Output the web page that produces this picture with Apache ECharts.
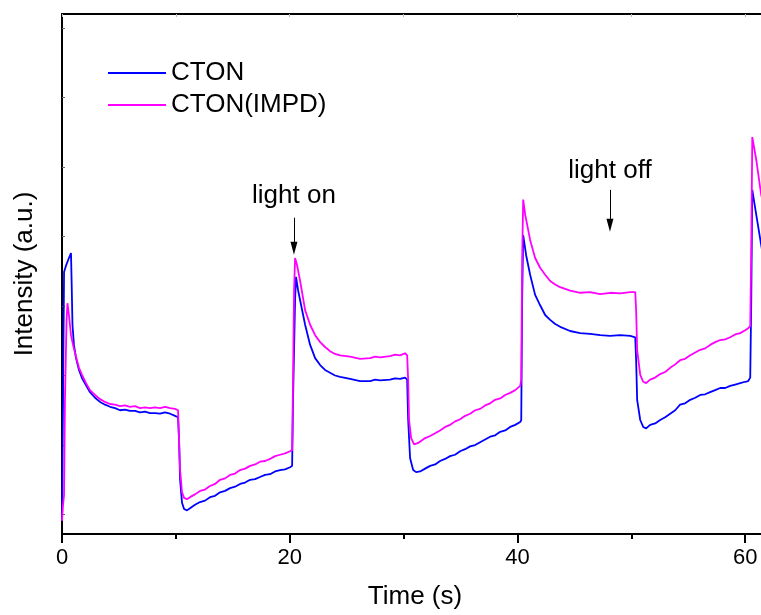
<!DOCTYPE html>
<html>
<head>
<meta charset="utf-8">
<title>CTON photocurrent</title>
<script src="https://cdn.jsdelivr.net/npm/echarts@6/dist/echarts.min.js"></script>
<style>
  html, body { margin: 0; padding: 0; background: #fff; }
  #chart { width: 761px; height: 615px; }
</style>
</head>
<body>
<div id="chart"></div>
<script>
// time (s), intensity (a.u.)
var cton = [
  [0,-9],[0.09,165],[0.18,349],[0.35,358],[0.61,369],[0.79,376],[0.86,323],[0.92,273],[1.05,244],[1.23,225],
  [1.49,208],[1.76,196],[2.11,186],[2.46,176],[2.9,168],[3.34,162],[3.78,158],[4.22,155],[4.66,153],[5.1,150],
  [5.53,151],[5.97,149],[6.41,149],[6.85,147],[7.29,148],[7.73,146],[8.17,146],[8.61,145],[9.05,147],[9.49,145],
  [9.93,142],[10.19,140],[10.28,107],[10.37,50],[10.54,17],[10.72,8],[10.98,6],[11.24,9],[11.68,14],[12.12,18],
  [12.56,20],[13.0,25],[13.44,27],[13.88,32],[14.32,34],[14.76,38],[15.2,40],[15.64,44],[16.08,46],[16.52,50],
  [16.96,51],[17.39,54],[17.83,57],[18.27,58],[18.71,62],[19.15,64],[19.59,65],[20.03,68],[20.21,70],[20.29,165],
  [20.47,309],[20.55,342],[20.73,323],[21.0,301],[21.35,273],[21.79,244],[22.23,225],[22.67,215],[23.1,208],[23.54,204],
  [23.98,200],[24.42,198],[25.3,195],[26.18,192],[27.06,192],[27.5,194],[27.94,193],[28.81,194],[29.25,196],[29.69,195],
  [30.13,197],[30.31,194],[30.4,136],[30.57,81],[30.84,64],[31.1,61],[31.45,62],[31.89,66],[32.33,70],[32.77,72],
  [33.2,77],[33.64,80],[34.08,84],[34.52,86],[34.96,91],[35.4,94],[35.84,98],[36.28,100],[36.72,104],[37.16,108],
  [37.6,112],[38.04,114],[38.48,119],[38.92,121],[39.36,126],[39.8,129],[40.24,133],[40.33,136],[40.41,309],[40.5,402],
  [40.76,373],[41.11,345],[41.55,316],[41.99,301],[42.43,287],[42.87,280],[43.31,274],[43.75,270],[44.62,264],[45.5,261],
  [46.38,260],[47.26,258],[48.14,257],[49.02,258],[49.9,257],[50.34,255],[50.42,222],[50.51,165],[50.78,136],[51.04,126],
  [51.3,124],[51.65,129],[52.09,131],[52.53,136],[52.97,140],[53.41,145],[53.85,150],[54.28,158],[54.72,160],[55.17,165],
  [55.61,168],[56.05,172],[56.48,173],[56.92,176],[57.36,179],[57.8,182],[58.24,182],[58.68,185],[59.12,187],[59.56,189],
  [60.0,191],[60.26,192],[60.44,197],[60.53,309],[60.62,467],[60.97,431],[61.4,388],[62,330]
];
var ctonImpd = [
  [0,-9],[0.09,14],[0.18,28],[0.26,165],[0.4,280],[0.48,304],[0.61,287],[0.79,258],[0.97,244],[1.23,227],
  [1.49,211],[1.76,201],[2.11,189],[2.46,179],[2.9,172],[3.34,166],[3.78,162],[4.22,159],[4.66,158],[5.1,156],
  [5.53,157],[5.97,155],[6.41,156],[6.85,153],[7.29,154],[7.73,153],[8.17,154],[8.61,153],[9.05,155],[9.49,153],
  [9.93,152],[10.19,150],[10.28,107],[10.37,64],[10.54,32],[10.72,24],[10.98,22],[11.24,25],[11.68,29],[12.12,34],
  [12.56,36],[13.0,41],[13.44,44],[13.88,50],[14.32,52],[14.76,57],[15.2,59],[15.64,64],[16.08,66],[16.52,70],
  [16.96,72],[17.39,76],[17.83,77],[18.27,80],[18.71,84],[19.15,86],[19.59,88],[20.03,91],[20.21,93],[20.29,194],
  [20.38,323],[20.47,369],[20.64,359],[20.9,337],[21.35,294],[21.79,273],[22.23,258],[22.67,248],[23.1,241],[23.54,235],
  [23.98,231],[24.42,229],[25.3,227],[26.18,224],[27.06,225],[27.5,227],[27.94,226],[28.81,228],[29.25,230],[29.69,229],
  [30.13,232],[30.31,229],[30.4,194],[30.48,136],[30.66,110],[30.92,101],[31.28,103],[31.89,110],[32.33,113],[32.77,117],
  [33.2,121],[33.65,126],[34.09,129],[34.53,134],[34.96,137],[35.4,142],[35.84,145],[36.28,150],[36.72,152],[37.16,157],
  [37.6,160],[38.04,165],[38.48,167],[38.92,172],[39.36,175],[39.8,179],[40.24,185],[40.33,194],[40.41,366],[40.5,453],
  [40.68,431],[41.11,395],[41.55,369],[41.99,355],[42.43,345],[42.87,336],[43.31,331],[43.75,327],[44.62,322],[45.5,319],
  [46.38,320],[47.26,317],[48.14,319],[49.02,318],[49.9,320],[50.34,320],[50.42,294],[50.51,237],[50.78,201],[51.04,191],
  [51.3,189],[51.65,194],[52.09,197],[52.53,202],[52.97,205],[53.41,211],[53.85,216],[54.28,222],[54.72,224],[55.17,229],
  [55.61,233],[56.05,237],[56.48,239],[56.92,244],[57.36,248],[57.8,251],[58.24,252],[58.68,255],[59.12,259],[59.56,261],
  [60.0,265],[60.26,268],[60.44,271],[60.53,381],[60.62,543],[60.97,510],[61.4,460],[62,420]
];

var seriesNames = ['CTON', 'CTON(IMPD)'];
var yTicks = [0, 100, 200, 300, 400, 500, 600, 700];
var minorTicks = [10, 30, 50];

// annotations: text + arrow
var noteLabels = ['light on', 'light off'];
var noteTimes = [20.37, 48.12];
var noteTextAt = [458, 494];
var arrowFrom = [427, 467];
var arrowTo = [383, 416];

var font = '"Liberation Sans", Arial, sans-serif';

var chart = echarts.init(document.getElementById('chart'));

var marks = noteLabels.map(function (s, i) {
  return { name: s, coord: [noteTimes[i], noteTextAt[i]] };
});
var arrows = noteLabels.map(function (s, i) {
  return [
    { coord: [noteTimes[i], arrowFrom[i]], symbol: 'none' },
    { coord: [noteTimes[i], arrowTo[i]], symbol: 'triangle', symbolSize: [7, 13] }
  ];
});

var option = {
  animation: false,
  backgroundColor: '#fff',
  grid: { left: 62, top: 14, width: 706, height: 520, containLabel: false, outerBoundsMode: 'none' },
  legend: {
    data: seriesNames,
    orient: 'vertical',
    left: 108,
    top: 60,
    padding: 0,
    icon: 'rect',
    itemWidth: 58,
    itemHeight: 2,
    itemGap: 6,
    textStyle: { fontFamily: font, fontSize: 26, color: '#000', lineHeight: 26 }
  },
  xAxis: [
    {
      type: 'value', position: 'bottom', min: 0, max: 62, interval: 20,
      name: 'Time (s)', nameLocation: 'middle', nameGap: 50,
      nameTextStyle: { fontFamily: font, fontSize: 26, color: '#000' },
      axisLine: { onZero: false, lineStyle: { color: '#000', width: 2 } },
      axisTick: { inside: false, length: 9, lineStyle: { color: '#000', width: 2 } },
      axisLabel: { fontFamily: font, fontSize: 22, color: '#000', margin: 13, showMaxLabel: false },
      splitLine: { show: false }
    },
    {
      type: 'value', position: 'bottom', min: 0, max: 62,
      axisLine: { show: false, onZero: false },
      axisTick: { inside: false, length: 5, customValues: minorTicks, lineStyle: { color: '#000', width: 2 } },
      axisLabel: { show: false },
      splitLine: { show: false }
    },
    {
      type: 'value', position: 'top', min: 0, max: 62, interval: 10,
      axisLine: { onZero: false, lineStyle: { color: '#000', width: 2 } },
      axisTick: { inside: true, length: 3, lineStyle: { color: '#bbb', width: 1 } },
      axisLabel: { show: false },
      splitLine: { show: false }
    }
  ],
  yAxis: {
    type: 'value', min: -28, max: 720,
    name: 'Intensity (a.u.)', nameLocation: 'middle', nameGap: 24,
    nameTextStyle: { fontFamily: font, fontSize: 26, color: '#000' },
    axisLine: { show: true, onZero: false, lineStyle: { color: '#000', width: 2 } },
    axisTick: { show: true, inside: true, length: 3, customValues: yTicks, lineStyle: { color: '#666', width: 1 } },
    axisLabel: { show: false },
    splitLine: { show: false }
  },
  series: [
    {
      name: seriesNames[0], type: 'line', data: cton, showSymbol: false, symbol: 'none',
      color: '#0000ff', lineStyle: { color: '#0000ff', width: 1.8 },
      markLine: {
        silent: true, animation: false,
        lineStyle: { color: '#000', width: 1, type: 'solid' },
        label: { show: false },
        data: arrows
      },
      markPoint: {
        silent: true, symbol: 'circle', symbolSize: 0,
        label: { show: true, position: 'inside', formatter: '{b}', fontFamily: font, fontSize: 26, color: '#000' },
        data: marks
      }
    },
    {
      name: seriesNames[1], type: 'line', data: ctonImpd, showSymbol: false, symbol: 'none',
      color: '#ff00ff', lineStyle: { color: '#ff00ff', width: 1.8 }
    }
  ]
};

chart.setOption(option);
</script>
</body>
</html>
